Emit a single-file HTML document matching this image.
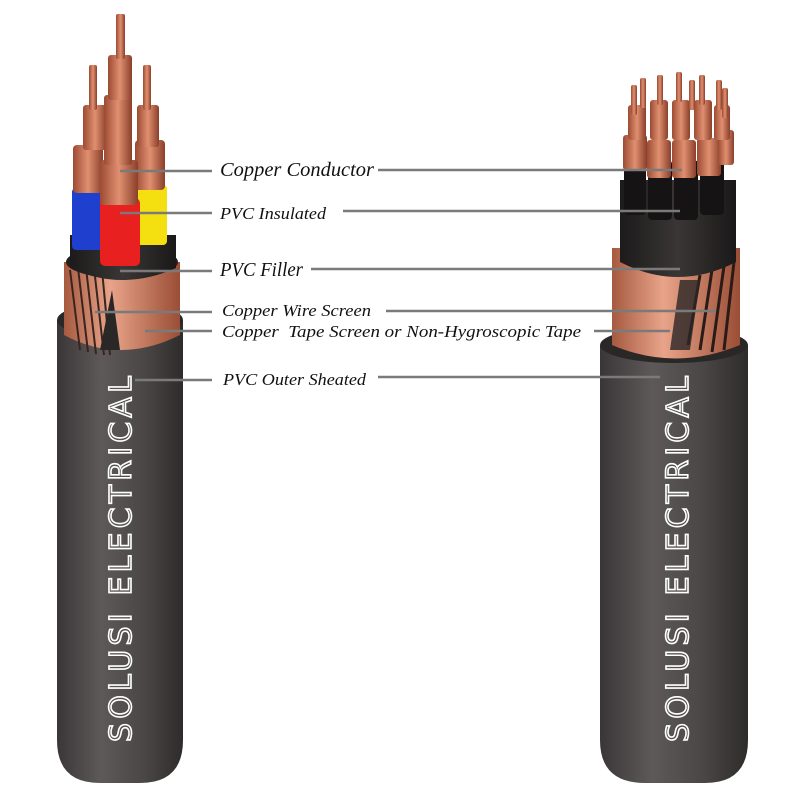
<!DOCTYPE html>
<html><head><meta charset="utf-8"><style>
body{margin:0;background:#fff;width:800px;height:800px;overflow:hidden}
svg{display:block}
text.l{font-family:"Liberation Serif",serif;font-style:italic;fill:#111}
</style></head><body>
<svg width="800" height="800" viewBox="0 0 800 800" xmlns="http://www.w3.org/2000/svg">
<defs>
<linearGradient id="sh" x1="0" x2="1"><stop offset="0" stop-color="#3a3637"/><stop offset="0.35" stop-color="#5e5959"/><stop offset="0.7" stop-color="#4a4646"/><stop offset="1" stop-color="#2e2b2b"/></linearGradient>
<linearGradient id="cu" x1="0" x2="1"><stop offset="0" stop-color="#a65a40"/><stop offset="0.4" stop-color="#e8a48a"/><stop offset="1" stop-color="#9a4e35"/></linearGradient>
<linearGradient id="wire" x1="0" x2="1"><stop offset="0" stop-color="#9c4b33"/><stop offset="0.5" stop-color="#e09070"/><stop offset="1" stop-color="#8a3f2a"/></linearGradient>
<linearGradient id="blk" x1="0" x2="1"><stop offset="0" stop-color="#1c1a1a"/><stop offset="0.5" stop-color="#3a3636"/><stop offset="1" stop-color="#1a1818"/></linearGradient>
</defs>

<!-- LEFT CABLE -->
<path d="M57 320 L57 740 Q57 783 100 783 L140 783 Q183 783 183 740 L183 320 Z" fill="url(#sh)"/>
<ellipse cx="120" cy="320" rx="63" ry="18" fill="#2a2727"/>
<path d="M64 262 L64 335 Q120 365 180 335 L180 262 Z" fill="url(#cu)"/>
<g stroke="#3a2420" stroke-width="2">
<line x1="70" y1="270" x2="80" y2="350"/><line x1="78" y1="268" x2="88" y2="352"/><line x1="86" y1="268" x2="96" y2="354"/><line x1="94" y1="268" x2="104" y2="355"/><line x1="102" y1="270" x2="110" y2="355"/>
</g>
<path d="M112 290 L120 350 L100 350 Z" fill="#2a2727"/>
<ellipse cx="122" cy="262" rx="56" ry="16" fill="#241f1f"/>
<path d="M70 235 L70 268 Q122 292 176 268 L176 235 Z" fill="url(#blk)"/>
<rect x="72" y="188" width="32" height="62" fill="#1f3fcf" rx="4"/>
<rect x="137" y="185" width="30" height="60" fill="#f4e010" rx="4"/>
<rect x="100" y="198" width="40" height="68" fill="#e82020" rx="5"/>
<g fill="url(#wire)">
<rect x="73" y="145" width="30" height="48" rx="4"/>
<rect x="135" y="140" width="30" height="50" rx="4"/>
<rect x="100" y="160" width="38" height="45" rx="4"/>
<rect x="83" y="105" width="24" height="45" rx="3"/>
<rect x="137" y="105" width="22" height="42" rx="3"/>
<rect x="104" y="95" width="28" height="70" rx="3"/>
<rect x="108" y="55" width="24" height="45" rx="3"/>
<rect x="89" y="65" width="8" height="45" rx="2"/>
<rect x="143" y="65" width="8" height="45" rx="2"/>
<rect x="116" y="14" width="9" height="45" rx="2"/>
</g>

<!-- RIGHT CABLE -->
<path d="M600 345 L600 740 Q600 783 645 783 L705 783 Q748 783 748 740 L748 345 Z" fill="url(#sh)"/>
<ellipse cx="674" cy="345" rx="74" ry="18" fill="#2a2727"/>
<path d="M612 248 L612 345 Q675 372 740 345 L740 248 Z" fill="url(#cu)"/>
<g stroke="#2a1a18" stroke-width="3">
<line x1="700" y1="275" x2="688" y2="345"/><line x1="712" y1="270" x2="700" y2="350"/><line x1="724" y1="266" x2="712" y2="352"/><line x1="734" y1="262" x2="724" y2="350"/>
</g>
<path d="M680 280 L700 280 L690 350 L670 350 Z" fill="#2a2727" opacity="0.8"/>
<path d="M620 180 L620 262 Q678 292 736 262 L736 180 Z" fill="url(#blk)"/>
<g fill="#151313">
<rect x="624" y="155" width="22" height="60" rx="4"/><rect x="648" y="160" width="24" height="60" rx="4"/>
<rect x="674" y="160" width="24" height="60" rx="4"/><rect x="700" y="155" width="24" height="60" rx="4"/>
</g>
<g fill="url(#wire)">
<rect x="623" y="135" width="24" height="35" rx="3"/><rect x="647" y="140" width="24" height="38" rx="3"/>
<rect x="672" y="140" width="24" height="38" rx="3"/><rect x="697" y="138" width="24" height="38" rx="3"/>
<rect x="718" y="130" width="16" height="35" rx="3"/>
<rect x="628" y="105" width="18" height="35" rx="3"/><rect x="650" y="100" width="18" height="40" rx="3"/>
<rect x="672" y="100" width="18" height="40" rx="3"/><rect x="694" y="100" width="18" height="40" rx="3"/>
<rect x="714" y="105" width="16" height="35" rx="3"/>
<rect x="631" y="85" width="6" height="30" rx="2"/><rect x="640" y="78" width="6" height="30" rx="2"/>
<rect x="657" y="75" width="6" height="30" rx="2"/><rect x="676" y="72" width="6" height="30" rx="2"/>
<rect x="689" y="80" width="6" height="30" rx="2"/><rect x="699" y="75" width="6" height="30" rx="2"/>
<rect x="716" y="80" width="6" height="30" rx="2"/><rect x="722" y="88" width="6" height="30" rx="2"/>
</g>

<text transform="translate(131,742) rotate(-90)" font-family="'DejaVu Sans','Liberation Sans',sans-serif" font-size="30" fill="none" stroke="#fff" stroke-width="1.6" letter-spacing="4.2" textLength="370">SOLUSI ELECTRICAL</text>
<text transform="translate(688,742) rotate(-90)" font-family="'DejaVu Sans','Liberation Sans',sans-serif" font-size="30" fill="none" stroke="#fff" stroke-width="1.6" letter-spacing="4.2" textLength="370">SOLUSI ELECTRICAL</text>

<g stroke="#7a7a7a" stroke-width="2.5">
<line x1="120" y1="171" x2="212" y2="171"/><line x1="378" y1="170" x2="682" y2="170"/>
<line x1="120" y1="213" x2="212" y2="213"/><line x1="343" y1="211" x2="680" y2="211"/>
<line x1="120" y1="271" x2="212" y2="271"/><line x1="311" y1="269" x2="680" y2="269"/>
<line x1="95" y1="312" x2="212" y2="312"/><line x1="386" y1="311" x2="716" y2="311"/>
<line x1="145" y1="331" x2="212" y2="331"/><line x1="594" y1="331" x2="670" y2="331"/>
<line x1="135" y1="380" x2="212" y2="380"/><line x1="378" y1="377" x2="660" y2="377"/>
</g>

<text class="l" x="220" y="176" font-size="20" textLength="154" lengthAdjust="spacingAndGlyphs">Copper Conductor</text>
<text class="l" x="220" y="219" font-size="17" textLength="106" lengthAdjust="spacingAndGlyphs">PVC Insulated</text>
<text class="l" x="220" y="276" font-size="20" textLength="83" lengthAdjust="spacingAndGlyphs">PVC Filler</text>
<text class="l" x="222" y="316" font-size="17" textLength="149" lengthAdjust="spacingAndGlyphs">Copper Wire Screen</text>
<text class="l" x="222" y="337" font-size="17" textLength="359" lengthAdjust="spacingAndGlyphs" xml:space="preserve">Copper  Tape Screen or Non-Hygroscopic Tape</text>
<text class="l" x="223" y="385" font-size="17" textLength="143" lengthAdjust="spacingAndGlyphs">PVC Outer Sheated</text>
</svg>
</body></html>
